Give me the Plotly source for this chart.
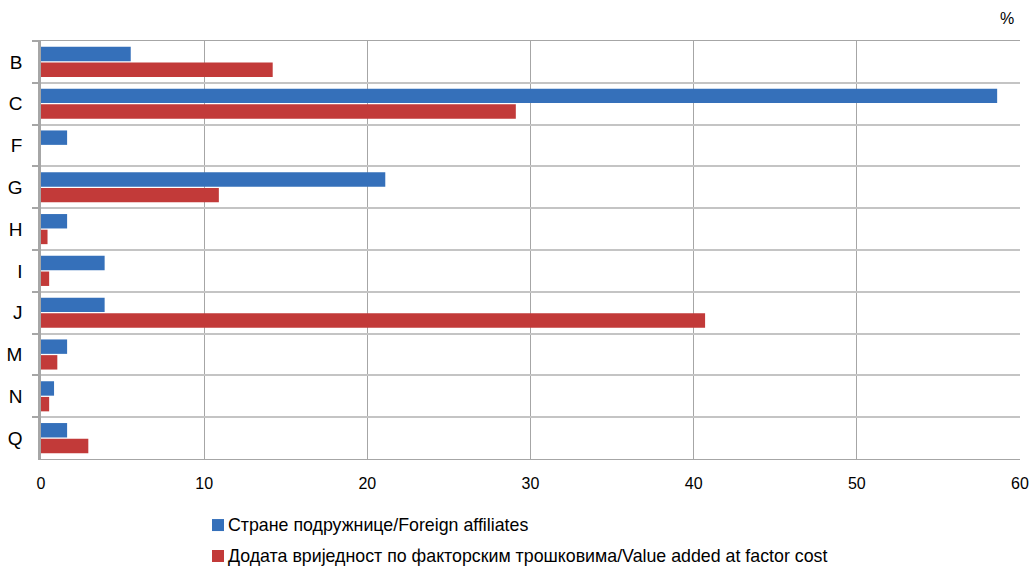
import plotly.graph_objects as go

categories = ["B", "C", "F", "G", "H", "I", "J", "M", "N", "Q"]
foreign_affiliates = [5.5, 58.6, 1.6, 21.1, 1.6, 3.9, 3.9, 1.6, 0.8, 1.6]
value_added = [14.2, 29.1, 0.0, 10.9, 0.4, 0.5, 40.7, 1.0, 0.5, 2.9]
x_ticks = [0, 10, 20, 30, 40, 50, 60]

name_fa = "Стране подружнице/Foreign affiliates"
name_va = "Додата вриједност по факторским трошковима/Value added at factor cost"

FONT = "Liberation Sans, Arial, sans-serif"
BLUE = "#3570ba"
RED = "#c23a39"

fig = go.Figure()
fig.add_trace(go.Bar(
    y=categories, x=foreign_affiliates, orientation="h", name=name_fa,
    marker=dict(color=BLUE, line=dict(width=0)), showlegend=False,
))
fig.add_trace(go.Bar(
    y=categories, x=value_added, orientation="h", name=name_va,
    marker=dict(color=RED, line=dict(width=0)), showlegend=False,
))

# custom legend (pixel-sized squares anchored in paper coords)
legend_items = [(name_fa, BLUE, -0.158), (name_va, RED, -0.232)]
shapes = []
annotations = []
for name, col, yy in legend_items:
    shapes.append(dict(
        type="rect", xref="paper", yref="paper",
        xsizemode="pixel", ysizemode="pixel",
        xanchor=(212 - 41) / 979, yanchor=yy,
        x0=0, x1=12, y0=-6, y1=6,
        fillcolor=col, line=dict(width=0),
    ))
    annotations.append(dict(
        text=name, xref="paper", yref="paper",
        x=(226 - 41) / 979, y=yy, xanchor="left", yanchor="middle",
        showarrow=False, font=dict(size=17.8, family=FONT, color="#000"),
    ))

annotations.append(dict(
    text="%", xref="paper", yref="paper", x=1.0, y=1.0, yshift=12, xshift=-4,
    xanchor="right", yanchor="bottom", showarrow=False,
    font=dict(size=16, family=FONT),
))

fig.update_layout(
    width=1033, height=572,
    margin=dict(l=41, r=13, t=41, b=113, autoexpand=False),
    paper_bgcolor="white", plot_bgcolor="white",
    barmode="group", bargap=0.25, bargroupgap=0.08,
    font=dict(family=FONT, size=16, color="#000000"),
    showlegend=False,
    xaxis=dict(
        range=[0, 60], tickvals=x_ticks, ticktext=[str(v) for v in x_ticks],
        showgrid=True, gridcolor="#a6a6a6", gridwidth=1.3,
        zeroline=False, showline=True, linecolor="#a6a6a6", mirror=True, linewidth=1.3,
        ticks="", ticklabelstandoff=10, tickfont=dict(size=16), automargin=False,
        ticklabeloverflow="allow",
    ),
    yaxis=dict(
        type="category", categoryorder="array", categoryarray=categories,
        autorange="reversed", tickson="boundaries",
        showgrid=True, gridcolor="#c4c4c4", gridwidth=1.5,
        showline=True, linecolor="#a6a6a6", linewidth=2.5,
        ticks="outside", ticklen=6, tickcolor="#a6a6a6", tickwidth=1.5,
        ticklabelstandoff=12, tickfont=dict(size=19), automargin=False,
    ),
    shapes=shapes,
    annotations=annotations,
)

# remove the browser's default 8px body margin so the figure fills the window
fig.write_html(
    "out.html",
    config={"displayModeBar": False},
    post_script="document.body.style.margin='0';",
)
